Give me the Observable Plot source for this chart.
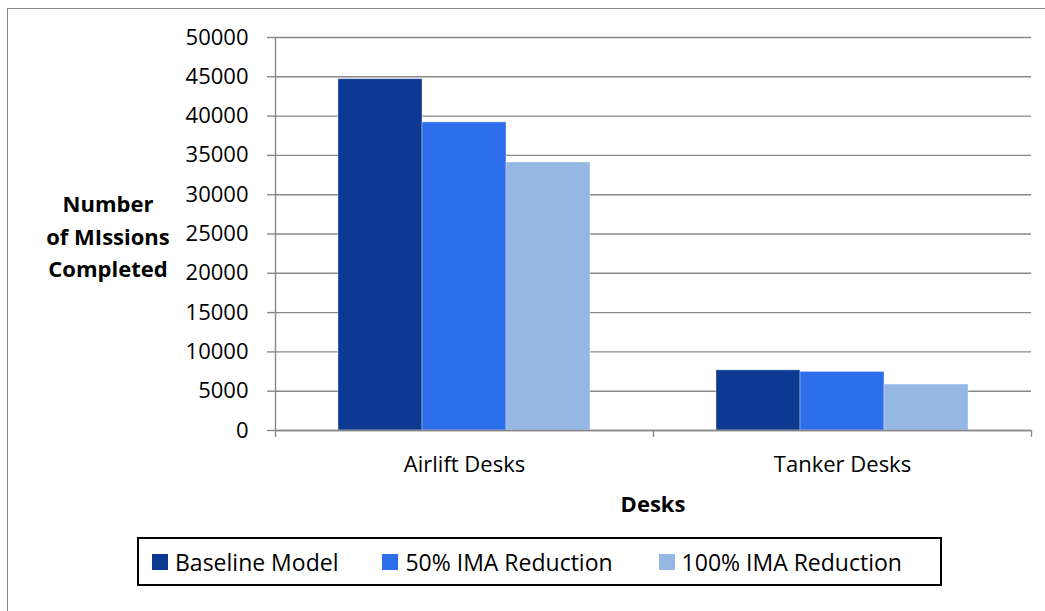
<!DOCTYPE html>
<html>
<head>
<meta charset="utf-8">
<script src="https://cdn.jsdelivr.net/npm/d3@7"></script>
<script src="https://cdn.jsdelivr.net/npm/@observablehq/plot@0.6"></script>
<style>
  html, body { margin: 0; padding: 0; background: #fff; }
  #wrap { position: relative; width: 1045px; height: 611px; overflow: hidden; font-family: "Open Sans", sans-serif; color: #000; }
  #frame { position: absolute; left: 7px; top: 8px; width: 1100px; height: 700px; border-left: 1px solid #8a8a8a; border-top: 1px solid #8a8a8a; }
  #chart { position: absolute; left: 0; top: 0; }
  #ytitle { position: absolute; left: 28px; top: 187px; width: 160px; text-align: center; font-weight: 700; font-size: 22px; line-height: 32.5px; }
  #xtitle { position: absolute; left: 553px; top: 492px; width: 200px; text-align: center; font-weight: 700; font-size: 22px; line-height: 22px; }
  #legend { position: absolute; left: 137px; top: 537px; width: 801px; height: 45px; border: 2px solid #000; display: flex; align-items: center; box-sizing: content-box; }
  .item { display: flex; align-items: center; font-size: 23px; white-space: nowrap; }
  .sw { width: 16px; height: 16px; margin-right: 7px; }
</style>
</head>
<body>
<div id="wrap">
  <div id="frame"></div>
  <div id="chart"></div>
  <div id="ytitle"></div>
  <div id="xtitle"></div>
  <div id="legend"></div>
</div>
<script>
// Missions completed per desk type under each scenario
const desks = ["Airlift Desks", "Tanker Desks"];
const seriesNames = ["Baseline Model", "50% IMA Reduction", "100% IMA Reduction"];
const baseline = [44700, 7650];
const ima50 = [39200, 7450];
const ima100 = [34100, 5850];
const seriesColors = ["#0c3a92", "#2d6feb", "#94b7e4"];
const yTicks = [0, 5000, 10000, 15000, 20000, 25000, 30000, 35000, 40000, 45000, 50000];
const yTitle = ["Number", "of MIssions", "Completed"];
const xTitle = "Desks";

const seriesValues = [baseline, ima50, ima100];
const rows = desks.flatMap((desk, i) =>
  seriesNames.map((series, j) => ({desk, i, series, j, value: seriesValues[j][i]}))
);

// each desk occupies one unit of x; the three bars fill the middle two thirds
const groupStart = 1 / 6;
const barWidth = 2 / 9;
const gridColor = "#888888";

const chart = Plot.plot({
  width: 1045,
  height: 480,
  marginLeft: 275,
  marginRight: 14,
  marginTop: 37,
  marginBottom: 50,
  style: {fontFamily: "Open Sans, sans-serif", fontSize: "22px", color: "#000", background: "transparent", overflow: "visible"},
  x: {domain: [0, desks.length], axis: null, label: null},
  y: {domain: [0, 50000], axis: null, label: null},
  color: {domain: seriesNames, range: seriesColors},
  marks: [
    Plot.gridY(yTicks, {stroke: gridColor, strokeOpacity: 1, strokeWidth: 1.4}),
    Plot.axisY({ticks: yTicks, label: null, tickSize: 8, tickFormat: () => "", stroke: gridColor, strokeOpacity: 1, strokeWidth: 1.4}),
    Plot.axisY({ticks: yTicks, label: null, tickSize: 0, tickPadding: 27, tickFormat: d => String(d), fill: "#000"}),
    Plot.rect(rows, {
      x1: r => r.i + groupStart + r.j * barWidth,
      x2: r => r.i + groupStart + (r.j + 1) * barWidth,
      y1: 0,
      y2: "value",
      fill: "series",
      stroke: "#ffffff",
      strokeOpacity: 0.35,
      strokeWidth: 1
    }),
    Plot.ruleX([0], {stroke: gridColor, strokeWidth: 1.4}),
    Plot.ruleY([0], {stroke: gridColor, strokeWidth: 1.4}),
    Plot.axisX({ticks: d3.range(desks.length + 1), label: null, tickSize: 7, tickFormat: () => "", stroke: gridColor, strokeOpacity: 1, strokeWidth: 1.4}),
    Plot.axisX({ticks: desks.map((d, i) => i + 0.5), label: null, tickSize: 0, tickPadding: 26, tickFormat: v => desks[Math.floor(v)], fill: "#000"})
  ]
});
document.getElementById("chart").appendChild(chart);

document.getElementById("ytitle").innerHTML = yTitle.join("<br>");
document.getElementById("xtitle").textContent = xTitle;

const legendGaps = [13, 44, 46];
const legend = d3.select("#legend");
legend.selectAll(".item")
  .data(seriesNames)
  .join("div")
  .attr("class", "item")
  .style("margin-left", (d, i) => legendGaps[i] + "px")
  .call(item => {
    item.append("div").attr("class", "sw").style("background", (d, i) => seriesColors[i]);
    item.append("span").text(d => d);
  });
</script>
</body>
</html>
